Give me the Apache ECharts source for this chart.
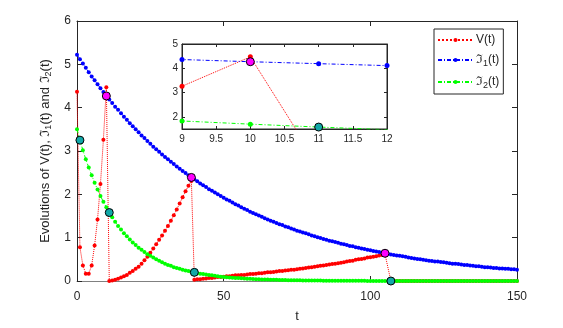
<!DOCTYPE html>
<html>
<head>
<meta charset="utf-8">
<script src="https://cdn.jsdelivr.net/npm/echarts@6/dist/echarts.min.js"></script>
<style>
  html, body { margin: 0; padding: 0; background: #fff; }
  #chart { width: 563px; height: 328px; }
</style>
</head>
<body>
<div id="chart"></div>
<script>
// values, one entry per time step t = 0..150
const redV = [
  4.37, 0.78, 0.36, 0.17, 0.17, 0.36, 0.82, 1.42, 2.24, 3.26,
  4.47, 0, 0.01, 0.03, 0.05, 0.08, 0.11, 0.14, 0.19, 0.23,
  0.28, 0.33, 0.40, 0.48, 0.56, 0.65, 0.75, 0.85, 0.95, 1.05,
  1.16, 1.27, 1.39, 1.52, 1.65, 1.79, 1.93, 2.07, 2.20, 2.31,
  0.03, 0.04, 0.04, 0.05, 0.06, 0.07, 0.07, 0.08, 0.09, 0.09,
  0.10, 0.11, 0.11, 0.12, 0.13, 0.13, 0.14, 0.14, 0.15, 0.16,
  0.16, 0.17, 0.18, 0.18, 0.19, 0.20, 0.20, 0.21, 0.22, 0.23,
  0.23, 0.24, 0.25, 0.26, 0.26, 0.27, 0.28, 0.29, 0.30, 0.31,
  0.32, 0.33, 0.34, 0.35, 0.36, 0.37, 0.38, 0.39, 0.40, 0.41,
  0.42, 0.43, 0.45, 0.46, 0.47, 0.49, 0.50, 0.51, 0.52, 0.54,
  0.55, 0.56, 0.57, 0.59, 0.60, 0.62, null, 0, 0, 0,
  0, 0, 0, 0, 0, 0, 0, 0, 0, 0,
  0, 0, 0, 0, 0, 0, 0, 0, 0, 0,
  0, 0, 0, 0, 0, 0, 0, 0, 0, 0,
  0, 0, 0, 0, 0, 0, 0, 0, 0, 0,
  0
];
const blueV = [
  5.22, 5.12, 5.02, 4.92, 4.82, 4.72, 4.63, 4.54, 4.45, 4.36,
  4.27, 4.19, 4.11, 4.02, 3.95, 3.87, 3.79, 3.72, 3.64, 3.57,
  3.50, 3.43, 3.36, 3.30, 3.23, 3.17, 3.10, 3.04, 2.98, 2.92,
  2.86, 2.81, 2.75, 2.70, 2.64, 2.59, 2.54, 2.49, 2.44, 2.39,
  2.35, 2.30, 2.25, 2.21, 2.17, 2.12, 2.08, 2.04, 2.00, 1.96,
  1.92, 1.88, 1.85, 1.81, 1.77, 1.74, 1.70, 1.67, 1.64, 1.60,
  1.57, 1.54, 1.51, 1.48, 1.45, 1.42, 1.39, 1.37, 1.34, 1.31,
  1.29, 1.26, 1.24, 1.21, 1.19, 1.16, 1.14, 1.12, 1.10, 1.08,
  1.05, 1.03, 1.01, 0.99, 0.97, 0.95, 0.93, 0.92, 0.90, 0.88,
  0.86, 0.85, 0.83, 0.81, 0.80, 0.78, 0.77, 0.75, 0.74, 0.72,
  0.71, 0.69, 0.68, 0.67, 0.65, 0.64, 0.63, 0.61, 0.60, 0.59,
  0.58, 0.57, 0.56, 0.54, 0.53, 0.52, 0.51, 0.50, 0.49, 0.48,
  0.47, 0.46, 0.45, 0.45, 0.44, 0.43, 0.42, 0.41, 0.40, 0.40,
  0.39, 0.38, 0.37, 0.37, 0.36, 0.35, 0.34, 0.34, 0.33, 0.32,
  0.32, 0.31, 0.30, 0.30, 0.29, 0.29, 0.28, 0.28, 0.27, 0.27,
  0.26
];
const greenV = [
  3.50, 3.25, 3.02, 2.81, 2.62, 2.44, 2.27, 2.11, 1.96, 1.83,
  1.70, 1.58, 1.47, 1.37, 1.27, 1.19, 1.10, 1.03, 0.96, 0.89,
  0.83, 0.77, 0.72, 0.67, 0.62, 0.58, 0.54, 0.50, 0.47, 0.43,
  0.40, 0.37, 0.35, 0.32, 0.30, 0.28, 0.26, 0.24, 0.23, 0.21,
  0.20, 0.18, 0.17, 0.16, 0.15, 0.14, 0.13, 0.12, 0.11, 0.10,
  0.095, 0.089, 0.083, 0.077, 0.072, 0.067, 0.062, 0.058, 0.054, 0.050,
  0.046, 0.043, 0.040, 0.037, 0.035, 0.032, 0.030, 0.028, 0.026, 0.024,
  0.023, 0.021, 0.020, 0.018, 0.017, 0.016, 0.015, 0.014, 0.013, 0.012,
  0.011, 0.010, 0.010, 0.009, 0.008, 0.008, 0.007, 0.007, 0.006, 0.006,
  0.005, 0.005, 0.004, 0.004, 0.004, 0.003, 0.003, 0.003, 0.003, 0.002,
  0, 0, 0, 0, 0, 0, 0, 0, 0, 0,
  0, 0, 0, 0, 0, 0, 0, 0, 0, 0,
  0, 0, 0, 0, 0, 0, 0, 0, 0, 0,
  0, 0, 0, 0, 0, 0, 0, 0, 0, 0,
  0, 0, 0, 0, 0, 0, 0, 0, 0, 0,
  0
];
// jump instants (on V) and the step after them (on the second state)
const jumpT = [10, 39, 105];
const afterT = [1, 11, 40, 107];

const yTicksInset = [2, 3, 4, 5];

const font = "'Liberation Sans', Arial, Helvetica, sans-serif";
const ink = '#262626';

function pts(arr) {
  let out = [];
  arr.forEach(function(v, i) {
    if (v !== null) out.push([i, v]);
  });
  return out;
}
let redPts = pts(redV);
let bluePts = pts(blueV);
let greenPts = pts(greenV);
let jumpPts = jumpT.map(t => [t, blueV[t]]);
let afterPts = afterT.map(t => [t, greenV[t]]);

let chart = echarts.init(document.getElementById('chart'), null, { renderer: 'canvas' });

function lineSeries(name, data, color, dash, xi, yi, size) {
  return {
    type: 'line',
    name: name,
    xAxisIndex: xi,
    yAxisIndex: yi,
    data: data,
    symbol: 'circle',
    symbolSize: size,
    showSymbol: true,
    clip: true,
    itemStyle: { color: color },
    lineStyle: { color: color, width: 1, type: dash },
    emphasis: { disabled: true },
    z: 2
  };
}
function markSeries(data, color, xi, yi, size) {
  return {
    type: 'scatter',
    xAxisIndex: xi,
    yAxisIndex: yi,
    data: data,
    symbol: 'circle',
    symbolSize: size,
    clip: true,
    itemStyle: { color: color, borderColor: '#000', borderWidth: 1, opacity: 1 },
    z: 5
  };
}

const dashDot = [4, 2, 1, 2];
const subRich = {
  s: { fontSize: 9, fontFamily: font, color: ink, padding: [7, 0, 0, 0] }
};

function boxAxis(extra) {
  return Object.assign({
    type: 'value',
    axisLine: { show: true, onZero: false, lineStyle: { color: ink, width: 1 } },
    axisTick: { show: true, inside: true, length: 5, lineStyle: { color: ink } },
    axisLabel: { show: false },
    splitLine: { show: false }
  }, extra);
}

let option = {
  animation: false,
  backgroundColor: '#fff',
  textStyle: { fontFamily: font },
  grid: [
    { left: 77, right: 46, top: 21, bottom: 44, show: false },
    { left: 182, right: 176, top: 44, bottom: 199, show: true,
      backgroundColor: '#fff', borderColor: ink, borderWidth: 1 }
  ],
  legend: {
    data: ['V(t)', 'ℑ1(t)', 'ℑ2(t)'],
    orient: 'vertical',
    left: 434,
    top: 29,
    padding: [5, 4, 4, 3],
    itemWidth: 35,
    itemHeight: 5,
    itemGap: 8,
    backgroundColor: '#fff',
    borderColor: ink,
    borderWidth: 1,
    borderRadius: 0,
    selectedMode: false,
    formatter: function(name) {
      return name.replace(/([12])/, '{s|$1}');
    },
    textStyle: { fontSize: 12, color: ink, fontFamily: font, padding: [0, 0, 0, -2], rich: subRich }
  },
  xAxis: [
    boxAxis({
      gridIndex: 0, min: 0, max: 150, interval: 50,
      name: 't', nameLocation: 'middle', nameGap: 29,
      nameTextStyle: { fontSize: 13, color: ink, fontFamily: font },
      axisLine: { show: true, onZero: false, lineStyle: { color: '#808080', width: 1 } },
      axisLabel: { show: true, fontSize: 12, color: ink, margin: 10, fontFamily: font }
    }),
    boxAxis({ gridIndex: 0, position: 'top', min: 0, max: 150, interval: 50 }),
    boxAxis({
      gridIndex: 1, min: 9, max: 12, interval: 0.5,
      axisTick: { show: true, inside: true, length: 3, lineStyle: { color: ink } },
      axisLabel: { show: true, fontSize: 10, color: ink, margin: 5, fontFamily: font }
    }),
    boxAxis({
      gridIndex: 1, position: 'top', min: 9, max: 12, interval: 0.5,
      axisTick: { show: true, inside: true, length: 3, lineStyle: { color: ink } }
    })
  ],
  yAxis: [
    boxAxis({
      gridIndex: 0, min: 0, max: 6, interval: 1,
      name: 'Evolutions of V(t), ℑ{s|1}(t) and ℑ{s|2}(t)',
      nameLocation: 'middle', nameGap: 23,
      nameTextStyle: { fontSize: 13, color: ink, fontFamily: font, rich: subRich },
      axisLabel: { show: true, fontSize: 12, color: ink, margin: 6, fontFamily: font }
    }),
    boxAxis({ gridIndex: 0, position: 'right', min: 0, max: 6, interval: 1 }),
    boxAxis({
      gridIndex: 1, min: 1.5, max: 5,
      axisTick: { show: true, inside: true, length: 3, customValues: yTicksInset, lineStyle: { color: ink } },
      axisLabel: { show: true, fontSize: 10, color: ink, margin: 4, customValues: yTicksInset, fontFamily: font }
    }),
    boxAxis({
      gridIndex: 1, position: 'right', min: 1.5, max: 5,
      axisTick: { show: true, inside: true, length: 3, customValues: yTicksInset, lineStyle: { color: ink } }
    })
  ],
  series: [
    lineSeries('V(t)', redPts, '#ff0000', 'dotted', 0, 0, 4),
    lineSeries('ℑ1(t)', bluePts, '#0000ff', dashDot, 0, 0, 4),
    lineSeries('ℑ2(t)', greenPts, '#00ff00', dashDot, 0, 0, 4),
    markSeries(jumpPts, '#ff00ff', 0, 0, 8),
    markSeries(afterPts, '#11a8a8', 0, 0, 8),
    lineSeries('V(t)', redPts, '#ff0000', 'dotted', 2, 2, 5),
    lineSeries('ℑ1(t)', bluePts, '#0000ff', dashDot, 2, 2, 5),
    lineSeries('ℑ2(t)', greenPts, '#00ff00', dashDot, 2, 2, 5),
    markSeries(jumpPts, '#ff00ff', 2, 2, 8),
    markSeries(afterPts, '#11a8a8', 2, 2, 8)
  ]
};

chart.setOption(option);
</script>
</body>
</html>
